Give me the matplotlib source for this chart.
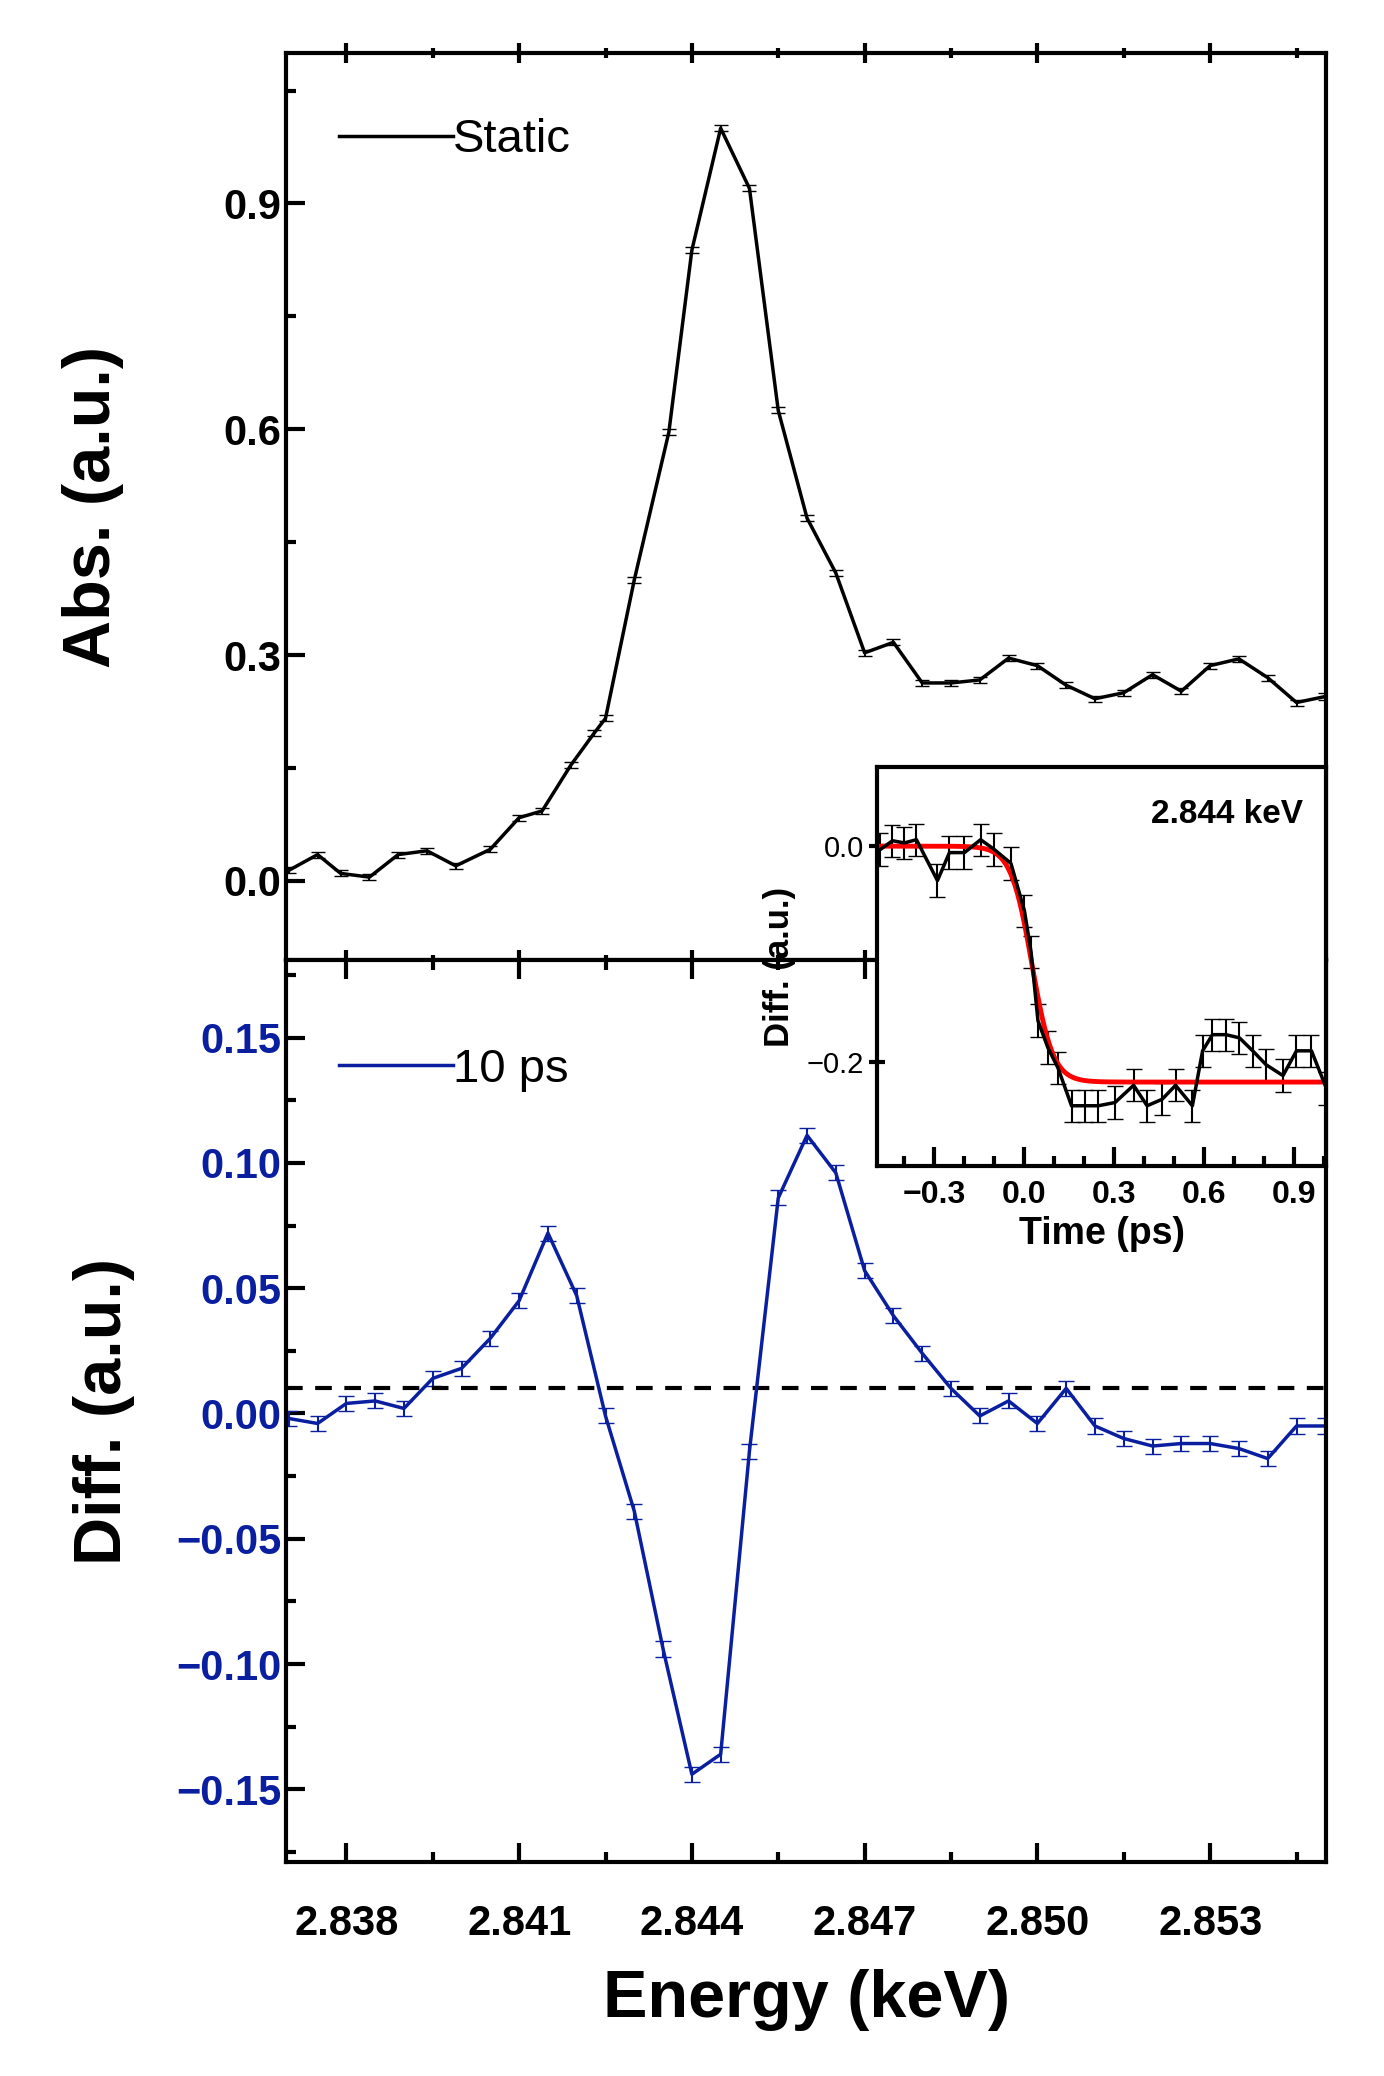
import matplotlib.pyplot as plt
import numpy as np
from matplotlib.ticker import MultipleLocator
from matplotlib.lines import Line2D

plt.rcParams['font.family'] = ['Liberation Sans', 'DejaVu Sans']

# Static absorption
e_static = [2.8370, 2.8375, 2.8379, 2.8384, 2.8389, 2.8394, 2.8399, 2.8405, 2.8410, 2.8414,
            2.8419, 2.8423, 2.8425, 2.8430, 2.8436, 2.8440, 2.8445, 2.8450, 2.8455, 2.8460,
            2.8465, 2.8470, 2.8475, 2.8480, 2.8485, 2.8490, 2.8495, 2.8500, 2.8505, 2.8510,
            2.8515, 2.8520, 2.8525, 2.8530, 2.8535, 2.8540, 2.8545, 2.8550]
abs_static = [0.014, 0.035, 0.010, 0.005, 0.035, 0.040, 0.020, 0.042, 0.084, 0.093, 0.154, 0.196,
              0.216, 0.400, 0.596, 0.838, 1.000, 0.920, 0.625, 0.482, 0.409, 0.303, 0.317, 0.263,
              0.263, 0.267, 0.296, 0.286, 0.260, 0.242, 0.250, 0.274, 0.252, 0.286, 0.295, 0.270,
              0.237, 0.245]

# 10 ps difference spectrum
e_diff = [round(2.837 + 0.0005 * i, 4) for i in range(37)]
diff_10ps = [-0.002, -0.004, 0.004, 0.005, 0.002, 0.014, 0.018, 0.030, 0.045, 0.072, 0.047, -0.001,
             -0.039, -0.094, -0.144, -0.136, -0.015, 0.086, 0.111, 0.096, 0.057, 0.039, 0.024,
             0.010, -0.001, 0.005, -0.004, 0.010, -0.005, -0.010, -0.013, -0.012, -0.012, -0.014,
             -0.018, -0.005, -0.005]
diff_err = [0.003] * 37

# Inset: kinetics at 2.844 keV
t_kin = [-0.48, -0.44, -0.40, -0.36, -0.29, -0.25, -0.20, -0.146, -0.101, -0.045, 0.0, 0.022,
         0.045, 0.078, 0.112, 0.157, 0.201, 0.246, 0.302, 0.364, 0.409, 0.459, 0.504, 0.560,
         0.594, 0.627, 0.672, 0.717, 0.761, 0.806, 0.862, 0.907, 0.957, 1.007]
kin = [-0.003, 0.005, 0.003, 0.006, -0.032, -0.006, -0.006, 0.006, -0.003, -0.016, -0.060, -0.098,
       -0.162, -0.187, -0.206, -0.241, -0.241, -0.241, -0.238, -0.222, -0.241, -0.235, -0.222,
       -0.241, -0.190, -0.175, -0.175, -0.178, -0.190, -0.203, -0.213, -0.190, -0.190, -0.225]
kin_err = [0.015] * len(kin)
fit_amp, fit_t0, fit_w = -0.219, 0.025, 0.07

blue = '#0a1fa0'
fig = plt.figure(figsize=(13.84, 20.76), dpi=100)
ax1 = fig.add_axes([0.207, 0.5376, 0.751, 0.4369])
ax2 = fig.add_axes([0.207, 0.1031, 0.751, 0.4345])
ins = fig.add_axes([0.634, 0.4383, 0.324, 0.192])

tick_font = dict(fontsize=30, fontweight='bold')
for ax in (ax1, ax2, ins):
    for s in ax.spines.values():
        s.set_linewidth(3)
    ax.tick_params(which='both', direction='in', top=True, width=3)
    ax.tick_params(which='major', length=14)
    ax.tick_params(which='minor', length=7)

xlim = (2.83696, 2.85501)
xt = [2.838 + 0.003 * i for i in range(6)]

ax1.errorbar(e_static, abs_static, yerr=0.004, color='black', lw=2.5, capsize=5, elinewidth=1.5)
ax1.set_xlim(*xlim)
ax1.set_ylim(-0.105, 1.10)
ax1.set_xticks(xt)
ax1.xaxis.set_minor_locator(MultipleLocator(0.0015))
ax1.set_yticks([0.0, 0.3, 0.6, 0.9])
ax1.yaxis.set_minor_locator(MultipleLocator(0.15))
ax1.set_xticklabels([])
ax1.set_yticklabels(['0.0', '0.3', '0.6', '0.9'], **tick_font)
ax1.tick_params(axis='x', which='both', direction='inout')
ax1.set_ylabel('Abs. (a.u.)', fontsize=48, fontweight='bold', labelpad=72)
ax1.legend([Line2D([], [], color='black', lw=2.5)], ['Static'], loc='upper left', fontsize=34,
           frameon=False, handlelength=2.4, handletextpad=0, bbox_to_anchor=(0.01, 0.975))

ax2.errorbar(e_diff, diff_10ps, yerr=diff_err, color=blue, lw=2.5, capsize=6, elinewidth=1.5)
ax2.axhline(0.01, color='black', ls='--', lw=3, dashes=(4, 3))
ax2.set_xlim(*xlim)
ax2.set_ylim(-0.179, 0.181)
ax2.set_xticks(xt)
ax2.xaxis.set_minor_locator(MultipleLocator(0.0015))
ax2.yaxis.set_minor_locator(MultipleLocator(0.025))
ax2.set_xticklabels([f'{v:.3f}' for v in xt], **tick_font)
ax2.set_yticks([-0.15, -0.10, -0.05, 0.0, 0.05, 0.10, 0.15])
ax2.set_yticklabels(['\u22120.15', '\u22120.10', '\u22120.05', '0.00', '0.05', '0.10', '0.15'],
                    color=blue, **tick_font)
ax2.tick_params(axis='x', pad=30)
ax2.set_ylabel('Diff. (a.u.)', fontsize=48, fontweight='bold', labelpad=30)
ax2.set_xlabel('Energy (keV)', fontsize=48, fontweight='bold', labelpad=18)
ax2.legend([Line2D([], [], color=blue, lw=2.5)], ['10 ps'], loc='upper left', fontsize=34,
           frameon=False, handlelength=2.4, handletextpad=0, bbox_to_anchor=(0.01, 0.95))

# inset
ins.errorbar(t_kin, kin, yerr=kin_err, color='black', lw=2.5, capsize=6, elinewidth=1.5)
tt = np.linspace(-0.5, 1.02, 400)
ins.plot(tt, fit_amp * (1 + np.tanh((tt - fit_t0) / fit_w)) / 2, color='red', lw=3.5)
ins.set_xlim(-0.49, 1.005)
ins.set_ylim(-0.297, 0.073)
ins.set_xticks([-0.3, 0.0, 0.3, 0.6, 0.9])
ins.set_xticklabels(['\u22120.3', '0.0', '0.3', '0.6', '0.9'], fontsize=23, fontweight='bold')
ins.xaxis.set_minor_locator(MultipleLocator(0.1))
ins.set_yticks([-0.2, 0.0])
ins.set_yticklabels(['\u22120.2', '0.0'], fontsize=21)
ins.tick_params(which='both', top=False)
ins.tick_params(axis='x', pad=10)
ins.tick_params(axis='y', which='major', direction='inout', length=12)
ins.set_xlabel('Time (ps)', fontsize=27, fontweight='bold')
ins.set_ylabel('Diff. (a.u.)', fontsize=25, fontweight='bold', labelpad=8)
ins.text(0.95, 0.92, '2.844 keV', transform=ins.transAxes, ha='right', va='top',
         fontsize=24, fontweight='bold')

fig.savefig('out.png', dpi=100)
